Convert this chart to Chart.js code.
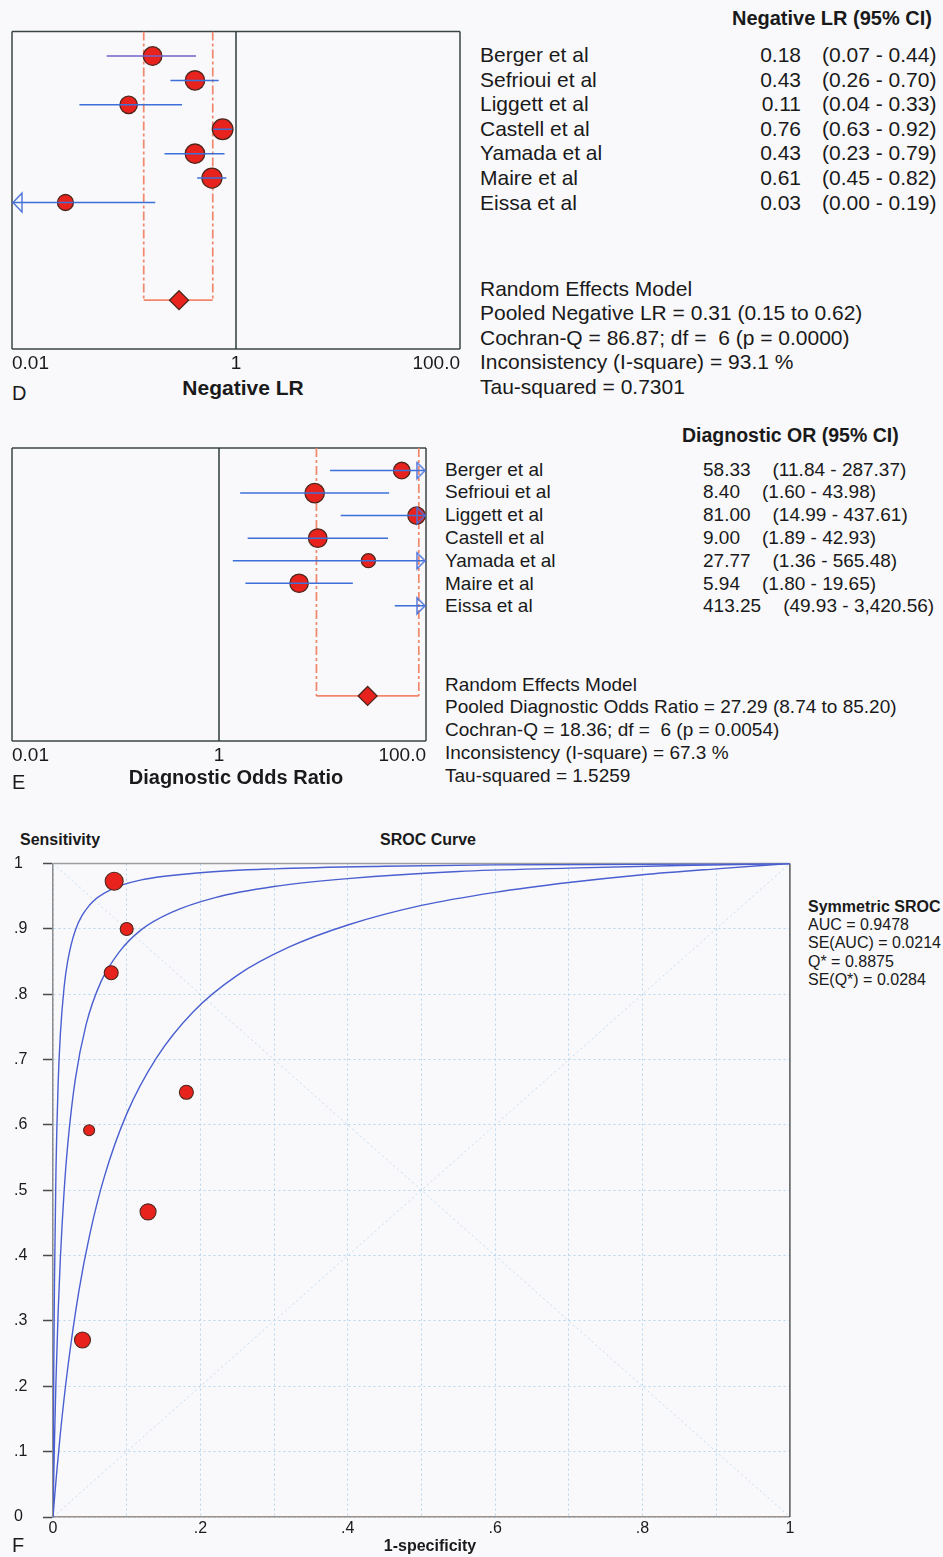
<!DOCTYPE html>
<html>
<head>
<meta charset="utf-8">
<script src="https://cdn.jsdelivr.net/npm/chart.js@4.4.1/dist/chart.umd.min.js"></script>
<style>
  html, body { margin: 0; padding: 0; background: #f9f9fc; }
  #page { position: relative; width: 943px; height: 1557px; overflow: hidden; background: #f9f9fc;
          font-family: 'Liberation Sans', Arial, sans-serif; color: #1a1a1a; }
  .box { position: absolute; }
  .t { position: absolute; white-space: pre; line-height: 1; transform: translateY(-50%); }
</style>
</head>
<body>
<div id="page">
  <div class="box" style="left:0;top:20px;width:475px;height:355px"><canvas id="chartD"></canvas></div>
  <div class="box" style="left:0;top:437px;width:440px;height:330px"><canvas id="chartE"></canvas></div>
  <div class="box" style="left:0;top:850px;width:800px;height:690px"><canvas id="chartF"></canvas></div>
</div>
<script>
// ---- study data ----
const studies = ['Berger et al', 'Sefrioui et al', 'Liggett et al', 'Castell et al', 'Yamada et al', 'Maire et al', 'Eissa et al'];

// Negative likelihood ratio with 95% CI
const nlr   = [0.18, 0.43, 0.11, 0.76, 0.43, 0.61, 0.03];
const nlrLo = [0.07, 0.26, 0.04, 0.63, 0.23, 0.45, 0.00];
const nlrHi = [0.44, 0.70, 0.33, 0.92, 0.79, 0.82, 0.19];
const nlrPooled = [0.31, 0.15, 0.62];   // estimate, lower, upper
const nlrCochranQ = '86.87', nlrP = '0.0000', nlrI2 = '93.1', nlrTau2 = '0.7301';

// Diagnostic odds ratio with 95% CI
const dor   = [58.33, 8.40, 81.00, 9.00, 27.77, 5.94, 413.25];
const dorLo = [11.84, 1.60, 14.99, 1.89, 1.36, 1.80, 49.93];
const dorHi = [287.37, 43.98, 437.61, 42.93, 565.48, 19.65, 3420.56];
const dorPooled = [27.29, 8.74, 85.20];
const dorCochranQ = '18.36', dorP = '0.0054', dorI2 = '67.3', dorTau2 = '1.5259';
const degreesOfFreedom = 6;

// log axis ticks shared by both forest plots
const logTicks = [0.01, 1, 100];
const logTickLabels = ['0.01', '1', '100.0'];

// SROC: per-study (1 - specificity, sensitivity)
const srocFpr  = [0.079, 0.181, 0.100, 0.040, 0.049, 0.129, 0.083];
const srocSens = [0.833, 0.650, 0.900, 0.271, 0.592, 0.467, 0.973];

// SROC curve and its two bounding curves
const curveUpperFpr  = [0, 0.0005, 0.001, 0.002, 0.004, 0.007, 0.01, 0.015, 0.02, 0.03, 0.05, 0.08, 0.12, 0.2, 0.3, 0.45, 0.6, 0.8, 1];
const curveUpperSens = [0, 0.123, 0.219, 0.359, 0.529, 0.664, 0.739, 0.810, 0.851, 0.897, 0.937, 0.961, 0.975, 0.986, 0.992, 0.996, 0.998, 0.999, 1];
const curveMidFpr    = [0, 0.001, 0.002, 0.004, 0.007, 0.01, 0.015, 0.02, 0.03, 0.045, 0.065, 0.09, 0.12, 0.16, 0.22, 0.3, 0.4, 0.55, 0.7, 0.85, 1];
const curveMidSens   = [0, 0.061, 0.115, 0.207, 0.314, 0.396, 0.497, 0.570, 0.668, 0.754, 0.819, 0.865, 0.899, 0.925, 0.948, 0.965, 0.977, 0.988, 0.993, 0.997, 1];
const curveLowFpr    = [0, 0.002, 0.005, 0.01, 0.02, 0.035, 0.05, 0.07, 0.1, 0.14, 0.19, 0.25, 0.32, 0.4, 0.5, 0.6, 0.7, 0.8, 0.9, 1];
const curveLowSens   = [0, 0.028, 0.068, 0.128, 0.228, 0.345, 0.433, 0.522, 0.617, 0.702, 0.773, 0.829, 0.872, 0.906, 0.936, 0.956, 0.971, 0.983, 0.992, 1];

const srocSummary = ['AUC = 0.9478', 'SE(AUC) = 0.0214', 'Q* = 0.8875', 'SE(Q*) = 0.0284'];

// ---- styles ----
const FONT = "'Liberation Sans', Arial, sans-serif";
const RED = '#e8231e', EDGE = '#4e261c', BLUE = '#3d6fd8', SALMON = '#f2876b';
const radiusD = [9.3, 9.7, 8.7, 10.3, 9.7, 10, 8];
const radiusE = [8.3, 9.7, 8.7, 9.3, 7, 9.2, 8];
const radiusF = [7, 7, 6.5, 8, 5.5, 8, 9];
const lineColorD = ['#7262cc', BLUE, BLUE, BLUE, BLUE, BLUE, BLUE];
const lineColorE = [BLUE, BLUE, BLUE, BLUE, BLUE, BLUE, BLUE];

Chart.defaults.font.family = FONT;
Chart.defaults.color = '#1a1a1a';
Chart.defaults.animation = false;

// outline round the plot area (all sides or chosen sides)
const framePlugin = {
  id: 'frame',
  beforeDatasetsDraw(chart, args, o) {
    if (!o || !o.sides) return;
    const { ctx, chartArea: a } = chart;
    ctx.save();
    ctx.lineWidth = o.width || 1.5;
    const seg = (c, x1, y1, x2, y2) => { if (!c) return; ctx.strokeStyle = c; ctx.beginPath(); ctx.moveTo(x1, y1); ctx.lineTo(x2, y2); ctx.stroke(); };
    seg(o.sides.top, a.left, a.top, a.right, a.top);
    seg(o.sides.right, a.right, a.top, a.right, a.bottom);
    seg(o.sides.bottom, a.left, a.bottom, a.right, a.bottom);
    seg(o.sides.left, a.left, a.top, a.left, a.bottom);
    ctx.restore();
  }
};
Chart.register(framePlugin);

// open triangle marker whose tip sits on the point position
function arrowMarker(dir, w, h, color) {
  const c = document.createElement('canvas');
  c.width = 2 * w + 4; c.height = h + 4;
  const g = c.getContext('2d');
  const cx = w + 2, cy = (h + 4) / 2;
  const base = dir === 'right' ? cx - w : cx + w;
  g.strokeStyle = color; g.lineWidth = 1.4;
  g.beginPath(); g.moveTo(cx - (dir === 'right' ? 1 : -1), cy); g.lineTo(base, cy - h / 2); g.lineTo(base, cy + h / 2); g.closePath();
  g.stroke();
  return c;
}
const arrowLeft = arrowMarker('left', 10, 19, '#4d72d8');
const arrowRight = arrowMarker('right', 9, 16, '#4d72d8');

const Y_TOP = -1, Y_BOTTOM = 12, POOLED_ROW = 10;

function forestChart(canvasId, est, lo, hi, pooled, radii, lineColors, pad) {
  const xMin = Math.min(...logTicks), xMax = Math.max(...logTicks);
  const seg = (a, b, extra) => Object.assign({ data: [a, b], showLine: true, pointRadius: 0, borderWidth: 1.5 }, extra);
  const ds = [];
  // no-effect line
  ds.push(seg({ x: 1, y: Y_TOP }, { x: 1, y: Y_BOTTOM }, { borderColor: '#2e3b3b', order: 9 }));
  // pooled confidence bracket
  ds.push(seg({ x: pooled[1], y: Y_TOP }, { x: pooled[1], y: POOLED_ROW }, { borderColor: SALMON, borderWidth: 1.7, borderDash: [9, 3, 3, 3], order: 8 }));
  ds.push(seg({ x: pooled[2], y: Y_TOP }, { x: pooled[2], y: POOLED_ROW }, { borderColor: SALMON, borderWidth: 1.7, borderDash: [9, 3, 3, 3], order: 8 }));
  ds.push(seg({ x: pooled[1], y: POOLED_ROW }, { x: pooled[2], y: POOLED_ROW }, { borderColor: SALMON, borderWidth: 1.7, order: 8 }));
  // study estimates
  const pts = [];
  est.forEach((v, i) => { if (v >= xMin && v <= xMax) pts.push({ x: v, y: i, i }); });
  ds.push({ data: pts, pointStyle: 'circle', pointRadius: c => radii[c.raw.i], backgroundColor: RED, borderColor: EDGE, borderWidth: 1.3, order: 4 });
  // confidence intervals
  est.forEach((v, i) => {
    ds.push(seg({ x: Math.max(lo[i], xMin), y: i }, { x: Math.min(hi[i], xMax), y: i }, { borderColor: lineColors[i], order: 2 }));
  });
  // intervals running past the axis
  const arrows = [];
  est.forEach((v, i) => {
    if (lo[i] < xMin) arrows.push({ x: xMin, y: i, dir: 'left' });
    if (hi[i] > xMax) arrows.push({ x: xMax, y: i, dir: 'right' });
  });
  ds.push({ data: arrows, pointStyle: c => (c.raw.dir === 'left' ? arrowLeft : arrowRight), pointRadius: 10, order: 1 });
  // pooled estimate
  ds.push({ data: [{ x: pooled[0], y: POOLED_ROW }], pointStyle: 'rectRot', pointRadius: 9.5, backgroundColor: RED, borderColor: EDGE, borderWidth: 1.3, order: 3 });

  return new Chart(document.getElementById(canvasId), {
    type: 'scatter',
    data: { datasets: ds },
    options: {
      responsive: true, maintainAspectRatio: false, events: [],
      layout: { padding: pad },
      plugins: { legend: { display: false }, tooltip: { enabled: false }, frame: { width: 1.5, sides: { top: '#3a4444', right: '#3a4444', bottom: '#3a4444', left: '#3a4444' } } },
      scales: {
        x: {
          type: 'logarithmic', min: xMin, max: xMax,
          afterBuildTicks: s => { s.ticks = logTicks.map(v => ({ value: v })); },
          afterFit: s => { s.height = 26; },
          ticks: { autoSkip: false, maxRotation: 0, align: 'inner', padding: 3, font: { size: 19 }, color: '#1a1a1a',
                   callback: (v, idx) => logTickLabels[idx] },
          grid: { display: false, drawTicks: false }, border: { display: false }
        },
        y: { type: 'linear', min: Y_TOP, max: Y_BOTTOM, reverse: true, display: false }
      }
    }
  });
}

forestChart('chartD', nlr, nlrLo, nlrHi, nlrPooled, radiusD, lineColorD, { left: 12, right: 15, top: 10, bottom: 0 });
forestChart('chartE', dor, dorLo, dorHi, dorPooled, radiusE, lineColorE, { left: 12, right: 14, top: 10, bottom: 0 });

// ---- SROC plot ----
const xy = (xs, ys) => xs.map((x, i) => ({ x, y: ys[i] }));
const GRID = '#b7d5ec';
const curveStyle = { showLine: true, pointRadius: 0, borderColor: '#4a5fd0', borderWidth: 1.4, cubicInterpolationMode: 'monotone', order: 5 };
new Chart(document.getElementById('chartF'), {
  type: 'scatter',
  data: {
    datasets: [
      { data: [{ x: 0, y: 1 }, { x: 1, y: 0 }], showLine: true, pointRadius: 0, borderColor: '#c3dcef', borderWidth: 1, borderDash: [2, 3], order: 10 },
      { data: [{ x: 0, y: 0 }, { x: 1, y: 1 }], showLine: true, pointRadius: 0, borderColor: '#c3dcef', borderWidth: 1, borderDash: [2, 3], order: 10 },
      Object.assign({ data: xy(curveUpperFpr, curveUpperSens) }, curveStyle),
      Object.assign({ data: xy(curveMidFpr, curveMidSens) }, curveStyle),
      Object.assign({ data: xy(curveLowFpr, curveLowSens) }, curveStyle),
      { data: srocFpr.map((x, i) => ({ x, y: srocSens[i], i })), pointStyle: 'circle',
        pointRadius: c => radiusF[c.raw.i], backgroundColor: RED, borderColor: EDGE, borderWidth: 1.1, order: 1 }
    ]
  },
  options: {
    responsive: true, maintainAspectRatio: false, events: [],
    layout: { padding: { left: 14, right: 8, top: 9, bottom: 0 } },
    plugins: { legend: { display: false }, tooltip: { enabled: false }, frame: { width: 1.5, sides: { top: '#9c9c9c', right: '#5a5a5a' } } },
    scales: {
      x: {
        type: 'linear', min: 0, max: 1,
        afterFit: s => { s.height = 23; },
        ticks: { stepSize: 0.1, autoSkip: false, maxRotation: 0, padding: 2, font: { size: 16 }, color: '#1a1a1a',
                 callback: v => { const k = Math.round(v * 10); if (k % 2) return ''; return k === 0 ? '0' : k === 10 ? '1' : '.' + k; } },
        grid: { color: GRID, lineWidth: 1, drawTicks: false },
        border: { display: true, color: '#9a918a', width: 1.5, dash: [2, 3] }
      },
      y: {
        type: 'linear', min: 0, max: 1,
        afterFit: s => { s.width = 39; },
        ticks: { stepSize: 0.1, autoSkip: false, crossAlign: 'far', padding: 4, font: { size: 16 }, color: '#1a1a1a',
                 callback: v => { const k = Math.round(v * 10); return k === 0 ? '0' : k === 10 ? '1' : '.' + k; } },
        grid: { color: GRID, lineWidth: 1, drawTicks: true, tickLength: 10, tickColor: '#4a4a4a', tickWidth: 1.5, tickBorderDash: [] },
        border: { display: true, color: '#8d8d8d', width: 1.5, dash: [2, 3] }
      }
    }
  }
});

// ---- text ----
const page = document.getElementById('page');
function put(x, y, txt, size, opt = {}) {
  const el = document.createElement('div');
  el.className = 't';
  el.textContent = txt;
  el.style.fontSize = size + 'px';
  if (opt.bold) el.style.fontWeight = 'bold';
  el.style.top = y + 'px';
  if (opt.align === 'right') el.style.right = (943 - x) + 'px';
  else if (opt.align === 'center') { el.style.left = x + 'px'; el.style.transform = 'translate(-50%, -50%)'; }
  else el.style.left = x + 'px';
  page.appendChild(el);
  return el;
}
const f2 = v => v.toLocaleString('en-US', { minimumFractionDigits: 2, maximumFractionDigits: 2 });

// panel D table
put(932, 18, 'Negative LR (95% CI)', 20, { bold: true, align: 'right' });
studies.forEach((s, i) => {
  const y = 54 + i * 24.6;
  put(480, y, s, 21);
  put(801, y, f2(nlr[i]), 21, { align: 'right' });
  put(822, y, `(${f2(nlrLo[i])} - ${f2(nlrHi[i])})`, 21);
});
[
  'Random Effects Model',
  `Pooled Negative LR = ${f2(nlrPooled[0])} (${f2(nlrPooled[1])} to ${f2(nlrPooled[2])})`,
  `Cochran-Q = ${nlrCochranQ}; df =  ${degreesOfFreedom} (p = ${nlrP})`,
  `Inconsistency (I-square) = ${nlrI2} %`,
  `Tau-squared = ${nlrTau2}`
].forEach((s, i) => put(480, 288 + i * 24.4, s, 21));
put(243, 387, 'Negative LR', 21, { bold: true, align: 'center' });
put(12, 393, 'D', 20);

// panel E table
put(682, 436, 'Diagnostic OR (95% CI)', 19.5, { bold: true });
studies.forEach((s, i) => {
  const y = 468.5 + i * 22.8;
  put(445, y, s, 19);
  const el = put(703, y, '', 19);
  const a = document.createElement('span'); a.textContent = f2(dor[i]);
  const b = document.createElement('span'); b.textContent = `(${f2(dorLo[i])} - ${f2(dorHi[i])})`; b.style.marginLeft = '22px';
  el.appendChild(a); el.appendChild(b);
});
[
  'Random Effects Model',
  `Pooled Diagnostic Odds Ratio = ${f2(dorPooled[0])} (${f2(dorPooled[1])} to ${f2(dorPooled[2])})`,
  `Cochran-Q = ${dorCochranQ}; df =  ${degreesOfFreedom} (p = ${dorP})`,
  `Inconsistency (I-square) = ${dorI2} %`,
  `Tau-squared = ${dorTau2}`
].forEach((s, i) => put(445, 683.5 + i * 22.8, s, 19));
put(236, 777, 'Diagnostic Odds Ratio', 20, { bold: true, align: 'center' });
put(12, 782, 'E', 20);

// panel F labels
put(20, 840, 'Sensitivity', 16, { bold: true });
put(428, 840, 'SROC Curve', 16, { bold: true, align: 'center' });
put(808, 907, 'Symmetric SROC', 16, { bold: true });
[925, 943, 962, 980].forEach((y, i) => put(808, y, srocSummary[i], 16));
put(430, 1546, '1-specificity', 16, { bold: true, align: 'center' });
put(12, 1545, 'F', 20);
</script>
</body>
</html>
